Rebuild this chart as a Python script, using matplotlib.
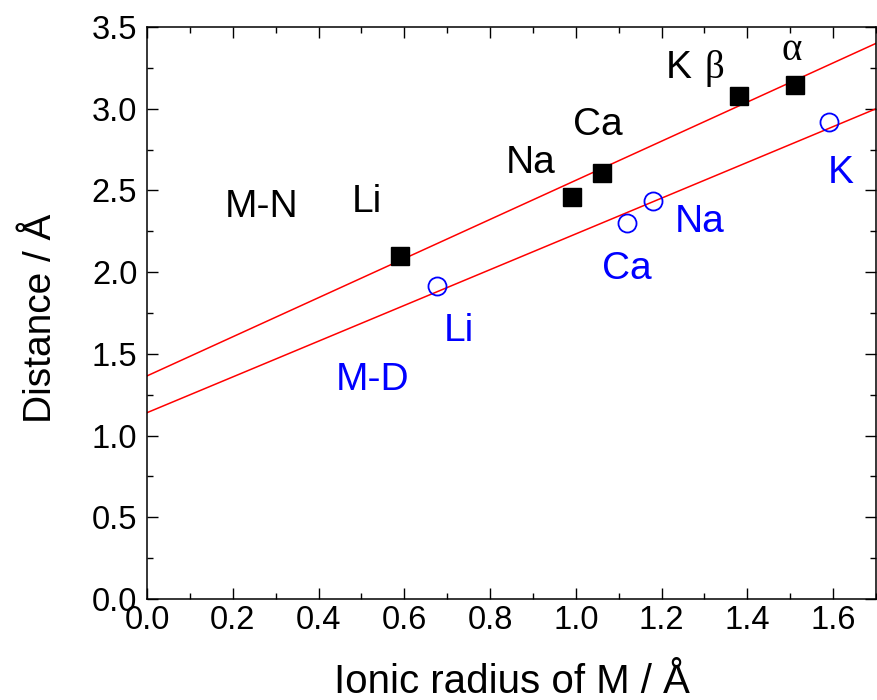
import numpy as np
import matplotlib
matplotlib.use("Agg")
import matplotlib.pyplot as plt
from matplotlib.ticker import MultipleLocator, FormatStrFormatter

plt.rcParams['font.family'] = ['Liberation Sans', 'DejaVu Sans']

# M-N distances (filled squares)
mn_x = [0.59, 0.99, 1.06, 1.38, 1.51]
mn_y = [2.10, 2.457, 2.605, 3.08, 3.146]
# M-D distances (open circles)
md_x = [0.676, 1.12, 1.18, 1.59]
md_y = [1.915, 2.30, 2.436, 2.917]
# fitted lines (intercept, slope)
fit_mn = [1.365, 1.197]
fit_md = [1.140, 1.094]

L, R, T, B = 147, 876, 27, 599
fig = plt.figure(figsize=(8.77, 7.0), dpi=100)
ax = fig.add_axes([L/877, 1-B/700, (R-L)/877, (B-T)/700])

xl = np.array([0.0, 1.7])
ax.plot(xl, fit_mn[0] + fit_mn[1]*xl, color='red', lw=1.1)
ax.plot(xl, fit_md[0] + fit_md[1]*xl, color='red', lw=1.1)
ax.plot(mn_x, mn_y, 's', color='black', ms=12.5, ls='none')
ax.plot(md_x, md_y, 'o', mfc='none', mec='blue', mew=1.3, ms=13, ls='none')

ax.set_xlim(0, 1.7)
ax.set_ylim(0, 3.5)
ax.xaxis.set_major_locator(MultipleLocator(0.2))
ax.xaxis.set_minor_locator(MultipleLocator(0.1))
ax.yaxis.set_major_locator(MultipleLocator(0.5))
ax.yaxis.set_minor_locator(MultipleLocator(0.25))
ax.xaxis.set_major_formatter(FormatStrFormatter('%.1f'))
ax.yaxis.set_major_formatter(FormatStrFormatter('%.1f'))
ax.tick_params(which='both', direction='in', top=True, right=True, labelsize=23.5, width=1)
ax.tick_params(which='major', length=8)
ax.tick_params(which='minor', length=4)
ax.tick_params(axis='x', which='major', pad=4)
ax.tick_params(axis='y', which='major', pad=7)
for s in ax.spines.values():
    s.set_linewidth(1.1)

ax.set_xlabel('Ionic radius of M / Å', fontsize=29)
ax.xaxis.label.set_va('baseline')
ax.xaxis.set_label_coords(0.5, (B-692.7)/(B-T))
ax.set_ylabel('Distance / Å', fontsize=28)
ax.yaxis.label.set_va('baseline')
ax.yaxis.set_label_coords((51-L)/(R-L), 0.49)

fs = 28
px = lambda X: (X-L)/(R-L)*1.7
py = lambda Y: (B-Y)/(B-T)*3.5
serif = ['Liberation Serif', 'DejaVu Serif']
labels = [
    (262, 216.7, 'M-N', 'black', None),
    (367, 211.7, 'Li', 'black', None),
    (531, 173.3, 'Na', 'black', None),
    (598, 135.0, 'Ca', 'black', None),
    (679, 78.3, 'K', 'black', None),
    (714.5, 78.3, 'β', 'black', serif),
    (791.5, 60.0, 'α', 'black', serif),
    (459, 340.7, 'Li', 'blue', None),
    (372.5, 390.0, 'M-D', 'blue', None),
    (627, 279.3, 'Ca', 'blue', None),
    (699.5, 231.7, 'Na', 'blue', None),
    (841, 183.3, 'K', 'blue', None),
]
for X, Y, s, c, fam in labels:
    kw = {} if fam is None else {'family': fam}
    ax.text(px(X), py(Y), s, color=c, fontsize=fs, ha='center', va='baseline', **kw)

fig.savefig('out.png', dpi=100)
